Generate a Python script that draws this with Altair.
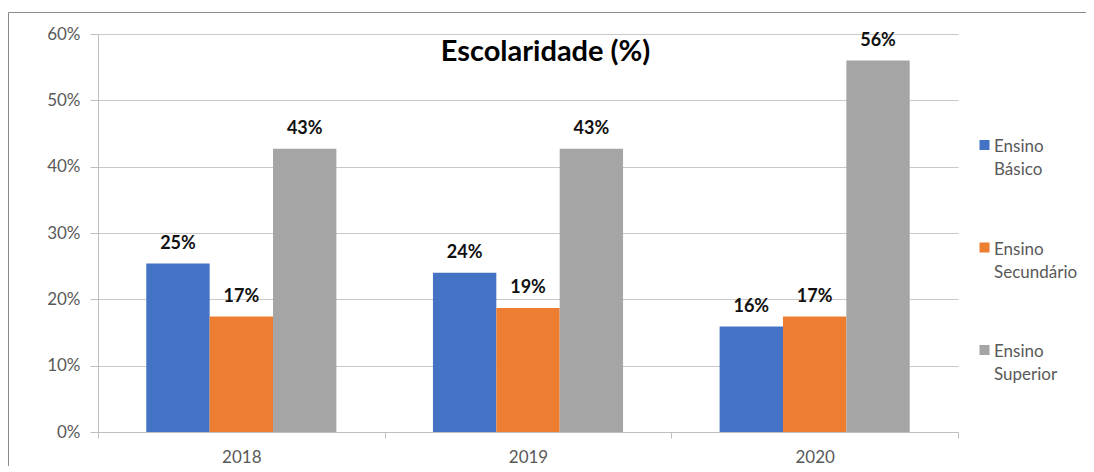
import altair as alt
import pandas as pd

years = ["2018", "2019", "2020"]
series = ["Ensino Básico", "Ensino Secundário", "Ensino Superior"]
basico = [0.254, 0.240, 0.159]
secundario = [0.174, 0.187, 0.174]
superior = [0.427, 0.427, 0.560]
colors = ["#4472C4", "#ED7D31", "#A5A5A5"]
y_ticks = [0, 0.1, 0.2, 0.3, 0.4, 0.5, 0.6]
title_text = "Escolaridade (%)"

rows = []
for i, yr in enumerate(years):
    for s, vals in zip(series, [basico, secundario, superior]):
        rows.append({"ano": yr, "nivel": s, "valor": vals[i]})
df = pd.DataFrame(rows)
leg_df = pd.DataFrame({"nivel": series})

FONT = "Lato"
W, H = 860, 398
AXC = "#bfbfbf"
TXT = "#595959"
LBL = 17

color_enc = alt.Color(
    "nivel:N", sort=series,
    scale=alt.Scale(domain=series, range=colors), legend=None,
)
y_val = alt.Y(
    "valor:Q",
    scale=alt.Scale(domain=[0, 0.6], nice=False),
    axis=alt.Axis(
        values=y_ticks, format=".0%", title=None, grid=True,
        tickSize=8, labelPadding=10, labelFontSize=LBL, labelFont=FONT,
        labelColor=TXT, domainColor=AXC, tickColor=AXC, gridColor="#c8c8c8",
    ),
)

base = alt.Chart(df).encode(
    x=alt.X(
        "ano:N",
        sort=years,
        scale=alt.Scale(paddingInner=0, paddingOuter=0),
        axis=alt.Axis(
            title=None, labelAngle=0, tickBand="extent", grid=False,
            tickSize=6, labelPadding=24, labelBaseline="alphabetic",
            labelFontSize=LBL, labelFont=FONT, labelColor=TXT,
            domainColor=AXC, tickColor=AXC,
        ),
    ),
    xOffset=alt.XOffset(
        "nivel:N", sort=series,
        scale=alt.Scale(paddingInner=0, paddingOuter=0.762),
    ),
)

bars = base.mark_bar().encode(y=y_val, color=color_enc)

labels = base.mark_text(
    dy=-15, baseline="alphabetic", fontWeight="bold", fontSize=18,
    font=FONT, color="#111111",
).encode(
    y=alt.Y("valor:Q"),
    text=alt.Text("valor:Q", format=".0%"),
)

main = alt.layer(bars, labels)

leg_y = alt.Y(
    "nivel:N", sort=series,
    scale=alt.Scale(type="point", range=[111, 316], padding=0),
    axis=None,
)
leg_sq = alt.Chart(leg_df).mark_square(size=100, opacity=1, strokeWidth=0).encode(
    x=alt.value(886.5), y=leg_y, color=color_enc,
)
leg_txt = alt.Chart(leg_df).mark_text(
    align="left", baseline="alphabetic", dy=7, lineBreak=" ", lineHeight=23,
    fontSize=LBL, font=FONT, color=TXT,
).encode(
    x=alt.value(896), y=leg_y, text="nivel:N",
)
legend = alt.layer(leg_sq, leg_txt)

border = alt.Chart(alt.Data(values=[{}])).mark_rect(
    filled=False, stroke="#8c8c8c", strokeWidth=1
).encode(
    x=alt.value(-89.5), x2=alt.value(3000),
    y=alt.value(-21.5), y2=alt.value(3000),
)

title = alt.Chart(alt.Data(values=[{"t": title_text}])).mark_text(
    fontSize=29, fontWeight="bold", font=FONT, color="#000000",
    align="center", baseline="alphabetic",
).encode(
    x=alt.value(447.5), y=alt.value(27), text="t:N",
)

chart = alt.layer(border, main, legend, title).resolve_scale(
    y="independent"
).properties(
    width=W, height=H,
    padding={"left": 90, "top": 26, "right": 128, "bottom": 34},
    autosize=alt.AutoSizeParams(type="none"),
).configure_view(stroke=None)

chart.save("out.html", embed_options={"renderer": "svg", "actions": False})
